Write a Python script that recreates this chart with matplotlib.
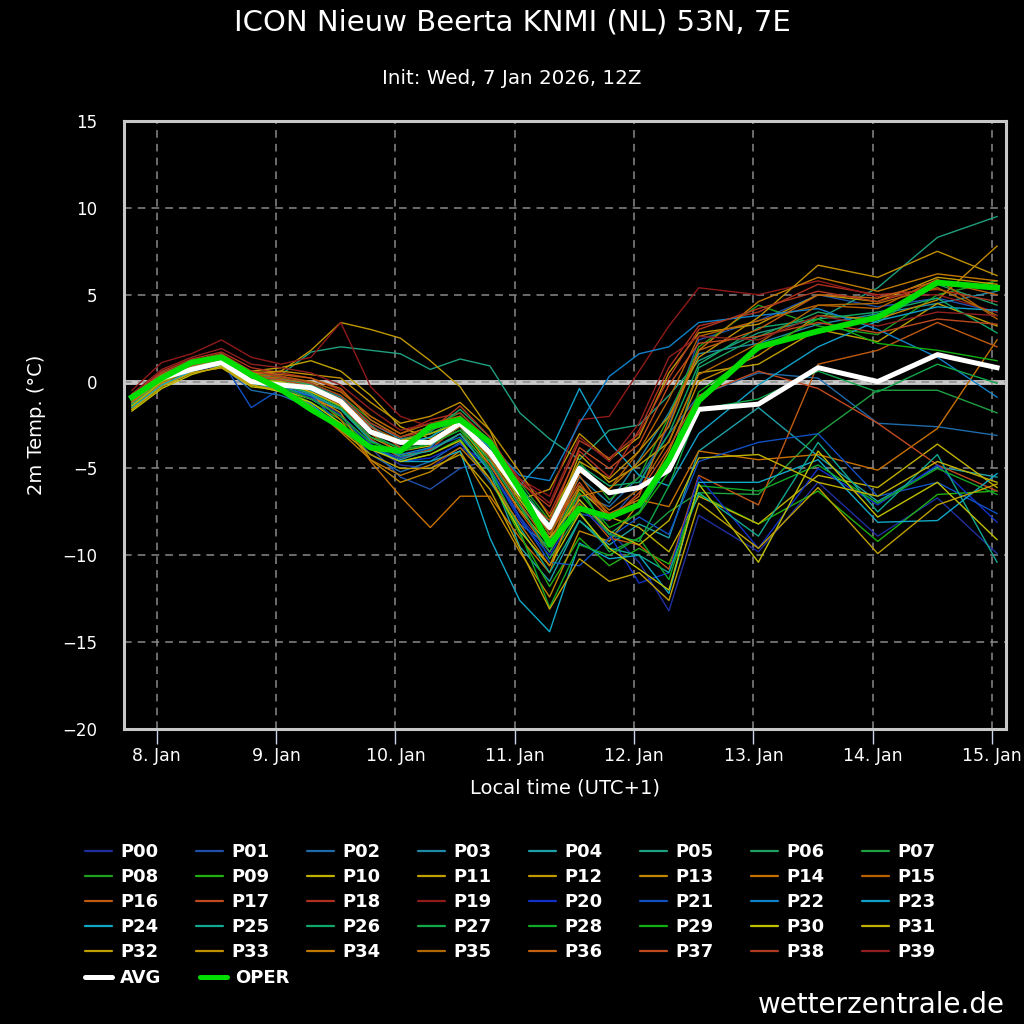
import matplotlib.pyplot as plt
from matplotlib.lines import Line2D

plt.rcParams['font.family'] = ['DejaVu Sans']

# forecast steps, hours after 8 Jan 00:00 local time (UTC+1)
hours = [-5, 1, 7, 13, 19, 25, 31, 37, 43, 49, 55, 61, 67, 73, 79, 85, 91, 97, 103, 109,
         121, 133, 145, 157, 169]
day_ticks = [0, 24, 48, 72, 96, 120, 144, 168]
day_labels = ['8. Jan', '9. Jan', '10. Jan', '11. Jan', '12. Jan', '13. Jan', '14. Jan', '15. Jan']

# ensemble members, 2m temperature (C)
P00 = [-1.3, 0.0, 0.6, 0.9, 0.1, -0.3, -0.9, -1.9, -3.6, -4.8, -5.0, -3.8, -4.6, -7.8, -9.8, -6.8, -8.6, -10.4, -13.2, -7.7, -9.8, -5.8, -8.9, -6.7, -9.9]
P01 = [-1.1, 0.2, 1.0, 1.3, -0.2, -0.4, -1.0, -2.0, -3.8, -5.5, -6.2, -5.0, -4.5, -7.2, -9.0, -7.6, -8.0, -6.0, -2.5, 2.4, 3.5, 5.0, 4.3, 4.8, 4.0]
P02 = [-0.9, 0.4, 0.8, 0.9, -0.5, -0.8, -1.5, -2.4, -4.2, -5.2, -4.6, -3.5, -5.8, -8.2, -9.5, -6.5, -7.2, -5.5, -3.0, -0.8, 0.5, 0.2, -2.4, -2.6, -3.1]
P03 = [-0.8, 0.5, 1.1, 1.4, 0.4, 0.2, -0.2, -0.9, -2.4, -3.3, -3.0, -2.2, -3.8, -6.0, -8.8, -5.5, -7.0, -4.5, -1.8, 1.6, 2.2, 3.3, 3.9, 4.5, 5.2]
P04 = [-1.4, 0.0, 0.7, 1.1, 0.0, -0.6, -1.6, -2.8, -3.9, -4.5, -3.9, -3.0, -5.2, -9.5, -11.5, -8.0, -9.4, -8.2, -9.0, -4.0, -1.5, -4.3, -6.9, -4.9, -5.5]
P05 = [-1.0, 0.4, 1.0, 1.3, 0.5, 0.4, 1.7, 2.0, 1.8, 1.6, 0.7, 1.3, 0.9, -1.8, -3.3, -4.5, -2.8, -2.5, -0.8, 1.2, 2.8, 3.6, 5.4, 8.3, 9.5]
P06 = [-1.2, 0.2, 0.9, 1.2, 0.3, 0.1, -0.3, -1.0, -2.5, -3.8, -3.2, -2.0, -4.0, -6.8, -9.2, -6.0, -8.8, -7.5, -4.8, 0.8, 2.6, 4.0, 3.4, 5.6, 4.4]
P07 = [-1.1, 0.3, 1.0, 1.4, 0.2, -0.1, -0.6, -1.4, -3.0, -3.9, -3.6, -2.8, -4.4, -7.0, -10.2, -7.5, -9.8, -9.0, -7.5, -6.4, -6.5, -3.0, -0.5, -0.5, -1.8]
P08 = [-0.9, 0.5, 1.2, 1.6, 0.5, 0.3, -0.1, -0.8, -2.2, -3.2, -2.6, -1.8, -3.6, -5.8, -8.0, -4.6, -6.8, -5.5, -2.0, 2.0, 4.4, 3.2, 2.7, 5.0, 5.8]
P09 = [-1.3, 0.1, 0.8, 1.0, -0.1, -0.4, -1.2, -2.2, -3.7, -4.6, -4.2, -3.3, -5.6, -8.8, -11.8, -9.0, -10.6, -9.6, -10.5, -6.5, -8.2, -6.3, -9.2, -6.5, -6.3]
P10 = [-1.6, -0.2, 0.5, 0.8, -0.3, -0.5, -1.0, -1.6, -3.2, -4.0, -3.7, -2.6, -4.8, -7.4, -9.4, -6.2, -7.8, -8.4, -9.8, -6.6, -8.2, -5.4, -6.1, -3.6, -6.1]
P11 = [-1.0, 0.2, 0.9, 1.1, 0.6, 0.8, 1.2, 0.6, -0.8, -2.6, -3.3, -2.4, -4.6, -6.2, -8.5, -4.2, -5.8, -4.8, -3.5, 0.5, 1.0, 3.0, 2.3, 4.5, 3.2]
P12 = [-1.3, -0.2, 0.6, 1.0, 0.4, 0.6, 1.8, 3.4, 3.0, 2.5, 1.2, -0.3, -2.8, -6.8, -6.2, -3.0, -4.5, -3.2, 0.5, 2.8, 3.3, 5.0, 4.6, 6.0, 5.6]
P13 = [-1.2, 0.1, 0.8, 1.1, 0.0, -0.3, -0.8, -1.8, -4.5, -5.8, -5.2, -4.0, -6.8, -9.8, -12.4, -8.6, -9.2, -7.0, -4.0, 0.0, 1.5, 3.8, 3.6, 4.7, 7.8]
P14 = [-1.5, -0.1, 0.7, 1.0, 0.1, 0.0, -0.7, -2.2, -4.6, -6.6, -8.4, -6.6, -6.6, -9.0, -11.0, -6.0, -7.6, -6.8, -7.2, -4.0, -4.5, -4.2, -5.1, -2.7, 2.4]
P15 = [-0.9, 0.3, 1.0, 1.4, 0.3, 0.2, -0.2, -1.0, -2.6, -3.4, -2.8, -2.2, -4.0, -6.6, -9.0, -5.2, -6.2, -4.0, -1.0, 2.6, 3.5, 4.4, 4.2, 5.9, 3.6]
P16 = [-1.1, 0.2, 0.8, 1.2, 0.2, -0.2, -0.6, -1.4, -3.0, -4.2, -4.0, -3.0, -4.8, -7.5, -9.8, -7.0, -9.0, -9.4, -10.8, -5.4, -7.1, 1.0, 1.8, 3.4, 2.0]
P17 = [-1.0, 0.4, 1.1, 1.5, 0.4, 0.0, -0.5, -1.3, -3.3, -4.4, -3.9, -2.5, -4.2, -6.4, -8.6, -5.8, -8.0, -6.4, -3.8, -0.8, 0.6, -0.4, -2.4, -4.8, -6.3]
P18 = [-0.8, 0.6, 1.3, 1.7, 0.8, 0.5, 0.2, -0.5, -2.0, -3.0, -2.2, -1.8, -3.4, -5.6, -7.6, -4.0, -5.5, -2.8, 0.8, 3.2, 4.0, 5.6, 5.0, 5.3, 4.6]
P19 = [-0.5, 1.1, 1.6, 2.4, 1.4, 1.0, 1.4, 3.4, -0.3, -2.0, -2.6, -2.0, -4.0, -5.6, -6.6, -2.2, -2.0, 0.6, 3.2, 5.4, 5.0, 5.8, 4.9, 5.0, 4.0]
P20 = [-1.2, 0.1, 0.7, 1.0, 0.0, -0.3, -1.0, -2.0, -3.6, -4.6, -4.4, -3.6, -5.0, -8.0, -10.0, -7.2, -8.8, -11.6, -11.0, -5.5, -9.6, -5.0, -7.1, -4.8, -8.1]
P21 = [-1.1, 0.3, 0.9, 1.2, -1.5, -0.4, -0.8, -2.5, -3.8, -4.4, -3.8, -3.2, -5.0, -7.8, -10.4, -10.6, -9.0, -7.8, -8.8, -4.6, -3.5, -3.0, -6.6, -5.8, -7.6]
P22 = [-0.9, 0.3, 1.0, 1.3, -0.1, -0.3, -0.8, -1.6, -3.4, -4.2, -3.8, -2.0, -3.6, -5.4, -5.7, -2.4, 0.3, 1.6, 2.0, 3.4, 3.8, 4.2, 3.0, 1.4, -0.9]
P23 = [-1.0, 0.2, 0.8, 1.1, 0.2, -0.1, -0.5, -1.2, -2.6, -3.6, -3.2, -2.2, -3.8, -6.0, -4.1, -0.4, -3.5, -5.4, -6.0, -3.0, -0.2, 2.0, 3.5, 4.3, 4.1]
P24 = [-1.5, -0.2, 0.6, 1.0, 0.0, -0.5, -1.3, -2.6, -3.8, -4.6, -4.6, -4.0, -9.0, -12.6, -14.4, -9.3, -10.2, -10.0, -12.2, -5.8, -5.8, -4.5, -8.1, -8.0, -5.3]
P25 = [-1.3, 0.1, 0.8, 1.1, 0.1, -0.2, -0.7, -1.6, -3.4, -4.3, -4.0, -3.0, -5.2, -8.4, -11.0, -8.0, -9.6, -10.0, -11.0, -6.4, -8.9, -3.5, -7.5, -4.2, -10.4]
P26 = [-1.0, 0.4, 1.0, 1.3, 0.3, 0.1, -0.2, -1.0, -2.8, -3.4, -2.9, -1.6, -3.2, -6.0, -8.2, -4.8, -6.0, -5.8, -3.0, 1.0, 3.1, 3.6, 4.0, 4.8, 2.8]
P27 = [-1.2, 0.2, 0.9, 1.2, 0.2, -0.2, -0.6, -1.5, -3.2, -3.8, -3.5, -2.6, -4.6, -7.2, -9.8, -6.8, -8.8, -9.2, -6.0, -1.6, -1.0, 0.6, -0.6, 1.0, -0.1]
P28 = [-1.4, 0.0, 0.7, 1.0, 0.0, -0.3, -1.0, -2.0, -3.5, -4.0, -3.6, -2.8, -5.0, -8.6, -13.0, -9.4, -10.0, -9.0, -11.4, -6.0, -6.3, -4.8, -7.0, -5.0, -6.5]
P29 = [-1.0, 0.3, 1.0, 1.3, 0.2, 0.0, -0.4, -1.1, -2.8, -3.5, -3.0, -2.3, -4.2, -6.6, -9.4, -6.4, -8.4, -7.6, -5.2, -0.6, 1.8, 3.6, 2.2, 1.8, 1.2]
P30 = [-1.7, -0.4, 0.4, 0.9, -0.2, -0.6, -1.2, -2.4, -3.9, -4.6, -4.2, -3.4, -5.6, -8.6, -10.6, -7.6, -9.6, -10.8, -12.0, -5.9, -10.4, -4.0, -7.8, -5.8, -9.1]
P31 = [-1.4, 0.0, 0.7, 1.0, 0.1, 0.0, -0.6, -1.4, -2.8, -3.4, -3.0, -2.4, -4.2, -6.8, -9.0, -6.8, -8.6, -9.4, -8.0, -4.4, -4.2, -5.8, -6.6, -4.6, -5.8]
P32 = [-1.6, -0.3, 0.5, 0.8, -0.2, -0.5, -1.4, -2.8, -4.2, -5.0, -5.0, -4.2, -6.2, -9.6, -13.1, -10.2, -11.5, -11.0, -12.6, -7.0, -9.6, -6.1, -9.9, -7.1, -5.9]
P33 = [-1.1, 0.2, 0.9, 1.3, 0.5, 0.6, 0.4, 0.2, -1.2, -2.4, -2.0, -1.2, -2.8, -5.2, -7.8, -4.6, -5.6, -4.0, -2.0, 1.4, 3.7, 6.7, 6.0, 7.5, 6.1]
P34 = [-1.2, 0.1, 0.8, 1.0, 0.0, -0.4, -1.4, -2.9, -4.5, -5.4, -4.8, -3.8, -5.6, -8.2, -10.6, -6.6, -6.2, -4.6, -2.6, 1.8, 4.6, 6.0, 5.2, 6.2, 5.8]
P35 = [-1.0, 0.3, 1.0, 1.4, 0.4, 0.3, 0.0, -0.6, -2.0, -3.0, -2.4, -2.0, -3.6, -6.2, -8.8, -6.0, -7.4, -6.2, -3.4, 0.4, 2.2, 4.4, 4.5, 5.4, 3.8]
P36 = [-0.9, 0.4, 1.1, 1.5, 0.6, 0.4, 0.2, -0.4, -2.2, -3.2, -2.6, -2.4, -4.4, -7.0, -9.4, -5.4, -7.8, -6.6, -2.2, 1.8, 3.0, 5.0, 4.8, 5.8, 5.0]
P37 = [-1.1, 0.2, 0.9, 1.3, 0.3, 0.1, -0.3, -1.0, -2.6, -3.8, -3.4, -2.6, -4.0, -6.6, -8.0, -3.8, -5.0, -3.6, -0.2, 2.2, 2.6, 3.4, 2.8, 3.6, 3.3]
P38 = [-0.8, 0.5, 1.2, 1.6, 0.6, 0.3, -0.1, -0.8, -2.4, -3.2, -2.8, -1.4, -3.2, -5.8, -7.2, -3.4, -4.4, -3.0, 0.2, 3.0, 4.2, 5.2, 4.6, 5.6, 5.4]
P39 = [-0.7, 0.7, 1.4, 1.9, 1.0, 0.8, 0.5, -0.2, -1.6, -2.8, -2.4, -2.2, -4.2, -5.6, -7.0, -3.2, -4.6, -2.4, 1.4, 2.6, 2.4, 3.8, 3.2, 4.0, 3.8]

avg = [-0.9, 0.2, 0.7, 1.1, 0.0, -0.2, -0.35, -1.15, -2.9, -3.5, -3.5, -2.4, -4.1, -6.4, -8.4, -5.0, -6.4, -6.1, -5.1, -1.6, -1.3, 0.8, 0.0, 1.55, 0.8]
oper = [-0.9, 0.2, 1.1, 1.4, 0.4, -0.45, -1.6, -2.6, -3.8, -4.0, -2.6, -2.2, -3.5, -6.2, -9.4, -7.3, -7.8, -7.1, -4.5, -1.1, 2.0, 2.9, 3.7, 5.7, 5.4]

members = [P00, P01, P02, P03, P04, P05, P06, P07, P08, P09,
           P10, P11, P12, P13, P14, P15, P16, P17, P18, P19,
           P20, P21, P22, P23, P24, P25, P26, P27, P28, P29,
           P30, P31, P32, P33, P34, P35, P36, P37, P38, P39]
names = ['P%02d' % i for i in range(40)]

colors = ['#1f2f9f', '#1f4fa8', '#1f6aa8', '#1f8aa8', '#1fa0a8', '#1fa080', '#1fa060', '#1fa040',
          '#1fa020', '#20b010', '#c0b000', '#c0a000', '#c09800', '#c08800', '#c87000', '#b86000',
          '#c05a10', '#c04a20', '#b03020', '#901a1a',
          '#1030c8', '#1050c0', '#1080c8', '#10a0c8', '#10a8c8', '#10a890', '#10a868', '#10a848',
          '#10a828', '#10b010', '#c0c000', '#c0b000', '#c0a000', '#c09000', '#c07800', '#b06800',
          '#c06010', '#c04a20', '#b03a20', '#902020']
oper_color = '#00dd00'

W = H = 1024
fig = plt.figure(figsize=(W / 100, H / 100), dpi=100, facecolor='black')
ax = fig.add_axes([124 / W, 1 - 729 / H, 882 / W, 608 / H])
ax.set_facecolor('black')

ax.axhline(0, color='#c8c8c8', lw=3.5, zorder=0.4)

for name, vals, c in zip(names, members, colors):
    ax.plot(hours, vals, color=c, lw=1.0, zorder=2)
ax.plot(hours, avg, color='white', lw=3.6, zorder=3)
ax.plot(hours, oper, color=oper_color, lw=4.2, zorder=4)

ax.set_xlim(-6.6, 170.8)
ax.set_ylim(-20, 15)
ax.set_xticks(day_ticks)
ax.set_xticklabels(day_labels)
ax.set_yticks(range(-20, 16, 5))
ax.set_yticklabels(['\u221220', '\u221215', '\u221210', '\u22125', '0', '5', '10', '15'])
ax.tick_params(colors='white')
ax.tick_params(axis='y', labelsize=12, length=0, pad=19)
ax.tick_params(axis='x', labelsize=12.5, length=11, width=1, color='#ccd6eb', pad=2)
ax.grid(True, color='#8a8a8a', lw=1.1, linestyle=(0, (5, 4)))
ax.set_axisbelow(True)
for sp in ax.spines.values():
    sp.set_color('#c8c8c8')
    sp.set_linewidth(2.2)

ax.set_xlabel('Local time (UTC+1)', color='white', fontsize=14, labelpad=10)
ax.set_ylabel('2m Temp. (°C)', color='white', fontsize=14, labelpad=12)

fig.text(0.5, 1 - 23 / H, 'ICON Nieuw Beerta KNMI (NL) 53N, 7E', color='white', fontsize=21,
         ha='center', va='center')
fig.text(0.5, 1 - 78 / H, 'Init: Wed, 7 Jan 2026, 12Z', color='white', fontsize=14.3,
         ha='center', va='center')
fig.text(1005 / W, 1 - 1005 / H, 'wetterzentrale.de', color='white', fontsize=20,
         ha='right', va='center')

# legend drawn by hand, row by row, 8 per row
leg_items = [(n, c, 1.6) for n, c in zip(names, colors)]
leg_items += [('AVG', 'white', 3.6), ('OPER', oper_color, 3.6)]
for k, (label, c, lw) in enumerate(leg_items):
    row, col = divmod(k, 8)
    x0 = 85 + 111 * col + (4 if label == 'OPER' else 0)
    y0 = 851 + 25 * row + (1 if row == 5 else 0)
    fig.add_artist(Line2D([x0 / W, (x0 + 27) / W], [1 - y0 / H, 1 - y0 / H],
                          transform=fig.transFigure, color=c, lw=lw, solid_capstyle='round'))
    fig.text((x0 + 35) / W, 1 - (y0 + 1) / H, label, color='white', fontsize=13,
             fontweight='bold', ha='left', va='center')

fig.savefig('out.png', dpi=100, facecolor='black')
